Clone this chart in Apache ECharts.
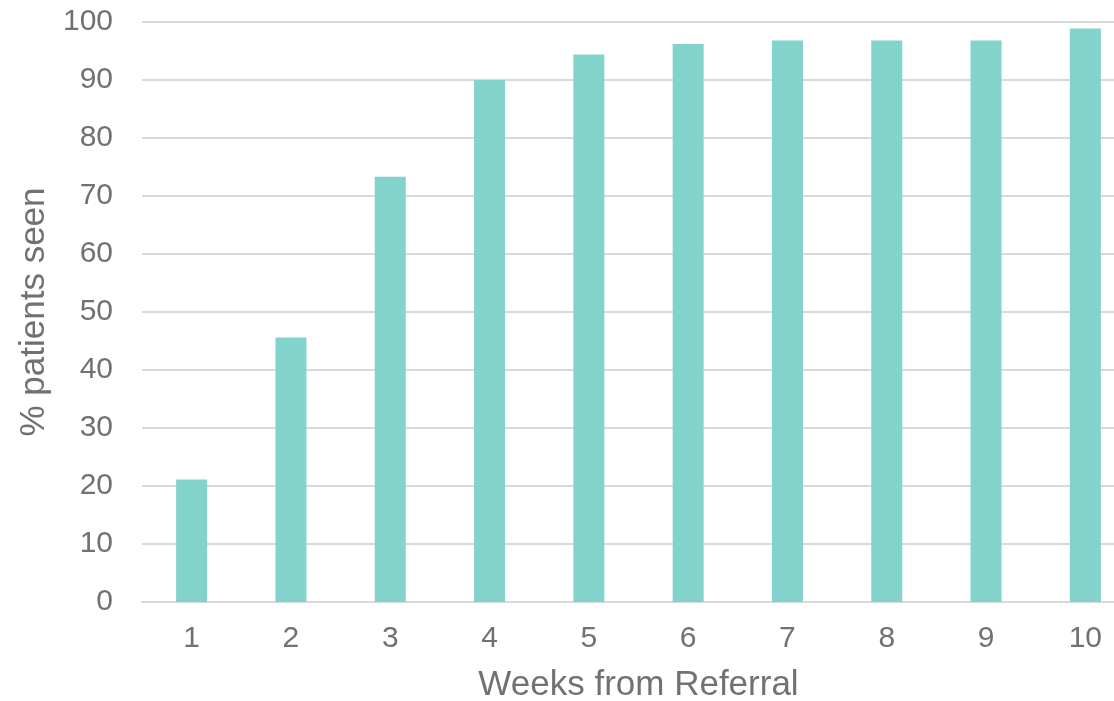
<!DOCTYPE html>
<html>
<head>
<meta charset="utf-8">
<script src="https://cdn.jsdelivr.net/npm/echarts@6/dist/echarts.min.js"></script>
<style>
  html, body { margin: 0; padding: 0; background: #fff; }
  #chart { width: 1114px; height: 701px; }
</style>
</head>
<body>
<div id="chart"></div>
<script>
// Weekly cumulative share of referred patients who have been seen
const weeks = ['1', '2', '3', '4', '5', '6', '7', '8', '9', '10'];
const pctSeen = [21.1, 45.6, 73.3, 90.0, 94.4, 96.2, 96.8, 96.8, 96.8, 98.9];
const yTicks = { min: 0, max: 100, interval: 10 };

const textColor = '#757070';
const gridColor = '#d9d9d9';
const font = 'Liberation Sans, Arial, sans-serif';

const chart = echarts.init(document.getElementById('chart'), null, { renderer: 'canvas' });
chart.setOption({
  animation: false,
  grid: {
    left: 142, top: 22, width: 993, height: 580,
    containLabel: false,
    outerBoundsMode: 'none'
  },
  xAxis: {
    type: 'category',
    data: weeks,
    name: 'Weeks from Referral',
    nameLocation: 'middle',
    nameGap: 66,
    nameTextStyle: { color: textColor, fontSize: 35, fontFamily: font },
    axisLine: { show: true, lineStyle: { color: gridColor, width: 2 } },
    axisTick: { show: false },
    axisLabel: { color: textColor, fontSize: 30, fontFamily: font, margin: 22 }
  },
  yAxis: {
    type: 'value',
    min: yTicks.min,
    max: yTicks.max,
    interval: yTicks.interval,
    name: '% patients seen',
    nameLocation: 'middle',
    nameGap: 88,
    nameTextStyle: { color: textColor, fontSize: 35, fontFamily: font },
    axisLine: { show: false },
    axisTick: { show: false },
    axisLabel: { color: textColor, fontSize: 30, fontFamily: font, margin: 29 },
    splitLine: { show: true, lineStyle: { color: gridColor, width: 2 } }
  },
  series: [{
    type: 'bar',
    data: pctSeen,
    barWidth: 31,
    itemStyle: { color: '#81d3cb' }
  }]
});
</script>
</body>
</html>
